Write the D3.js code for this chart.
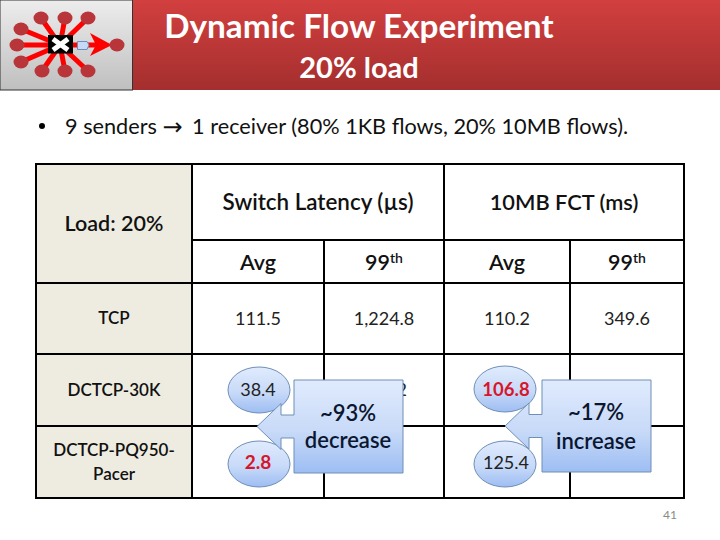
<!DOCTYPE html>
<html><head><meta charset="utf-8">
<script src="https://cdn.jsdelivr.net/npm/d3@7/dist/d3.min.js"></script>
<style>html,body{margin:0;padding:0;background:#fff}svg{display:block}text{font-family:Lato,"Open Sans",sans-serif}</style>
</head><body><svg id="c" width="720" height="540"></svg>
<script>
const title = "Dynamic Flow Experiment";
const subtitle = "20% load";
const bulletStart = "9 senders ";
const bulletArrow = "→";
const bulletEnd = " 1 receiver (80% 1KB flows, 20% 10MB flows).";
const corner = "Load: 20%";
const groups = ["Switch Latency (µs)", "10MB FCT (ms)"];
const subHeaders = ["Avg", "99", "Avg", "99"];
const rowsLabels = [["TCP"], ["DCTCP-30K"], ["DCTCP-PQ950-", "Pacer"]];
const latencyAvg = [111.5, 38.4, 2.8];
const latency99 = ["1,224.8", "298.2", ""];
const fctAvg = [110.2, 106.8, 125.4];
const fct99 = ["349.6", "", ""];
const callouts = [["~93%", "decrease"], ["~17%", "increase"]];
const pageNumber = "41";
const colEdges = [36, 192, 324, 444, 570, 684];
const rowEdges = [164, 240, 283, 354, 426, 498];

const svg = d3.select("#c");
const defs = svg.append("defs");
function grad(id, stops){
  const g = defs.append("linearGradient").attr("id", id).attr("x1",0).attr("y1",0).attr("x2",0).attr("y2",1);
  stops.forEach(([o,c])=>g.append("stop").attr("offset",o).attr("stop-color",c));
}
grad("band",[[0,"#d23f3f"],[1,"#a42f2e"]]);
grad("gray",[[0,"#ededed"],[1,"#bfbfbf"]]);
grad("blue",[[0,"#e0ebfd"],[0.55,"#c8daf8"],[1,"#9dbdf3"]]);

// header band
svg.append("rect").attr("x",133).attr("y",0).attr("width",587).attr("height",90).attr("fill","url(#band)");
svg.append("rect").attr("x",0).attr("y",0).attr("width",132.5).attr("height",90).attr("fill","url(#gray)").attr("stroke","#333").attr("stroke-width",1);
svg.append("text").attr("x",359).attr("y",38).attr("text-anchor","middle").attr("font-size",33.3).attr("font-weight",700).attr("fill","#fff").text(title);
svg.append("text").attr("x",359).attr("y",78).attr("text-anchor","middle").attr("font-size",29).attr("font-weight",700).attr("fill","#fff").text(subtitle);

// star icon
const cx=60, cy=45;
const senders=[[41,18],[65,18],[88,18],[21,29],[17,45],[21,62],[42,71],[65,71],[88,71]];
const icon=svg.append("g");
icon.selectAll("line.s").data(senders).join("line").attr("x1",d=>d[0]).attr("y1",d=>d[1]).attr("x2",cx).attr("y2",cy).attr("stroke","#f00").attr("stroke-width",5);
icon.append("line").attr("x1",cx).attr("y1",cy).attr("x2",100).attr("y2",45).attr("stroke","#f00").attr("stroke-width",5);
icon.append("path").attr("d","M90 33L112 45L90 56L96 45Z").attr("fill","#f00");
icon.selectAll("ellipse").data(senders.concat([[117,45]])).join("ellipse").attr("cx",d=>d[0]).attr("cy",d=>d[1]).attr("rx",7.5).attr("ry",6.5).attr("fill","#b8363a");
icon.append("rect").attr("x",48).attr("y",35).attr("width",25).attr("height",18.5).attr("fill","#000");
icon.append("path").attr("d","M53 39L68 50M68 39L53 50").attr("stroke","#fff").attr("stroke-width",5);
icon.append("path").attr("d","M77.5 41.5H87L89 45L87 49.5H77.5Z").attr("fill","#c6d9f5").attr("stroke","#6c8ebf");

// bullet
svg.append("circle").attr("cx",42).attr("cy",126).attr("r",3).attr("fill","#000");
const bt=svg.append("text").attr("x",65).attr("y",134).attr("font-size",21.7).attr("fill","#111");
bt.append("tspan").text(bulletStart);
bt.append("tspan").style("font-family","'DejaVu Sans'").attr("font-size",24).attr("dy",1).text(bulletArrow);
bt.append("tspan").attr("dy",-1).attr("dx",4).text(bulletEnd);

// table
const g=svg.append("g");
g.append("rect").attr("x",colEdges[0]).attr("y",rowEdges[0]).attr("width",colEdges[1]-colEdges[0]).attr("height",rowEdges[5]-rowEdges[0]).attr("fill","#eeece1");
const H=[[1,5,1],[0,5,2],[0,5,3],[0,5,4],[0,5,0],[0,5,5]];
g.selectAll("line.h").data(H).join("line").attr("x1",d=>colEdges[d[0]]).attr("x2",d=>colEdges[d[1]]).attr("y1",d=>rowEdges[d[2]]).attr("y2",d=>rowEdges[d[2]]).attr("stroke","#000").attr("stroke-width",2);
const V=[[0,0],[1,0],[2,1],[3,0],[4,1],[5,0]];
g.selectAll("line.v").data(V).join("line").attr("x1",d=>colEdges[d[0]]).attr("x2",d=>colEdges[d[0]]).attr("y1",d=>rowEdges[d[1]]).attr("y2",rowEdges[5]).attr("stroke","#000").attr("stroke-width",2);
g.selectAll("rect.o").data([0]).join("rect").attr("x",colEdges[0]).attr("y",rowEdges[0]).attr("width",colEdges[5]-colEdges[0]).attr("height",rowEdges[5]-rowEdges[0]).attr("fill","none").attr("stroke","#000").attr("stroke-width",2);

function T(x,y,s,o={}){
  return svg.append("text").attr("x",x).attr("y",y).attr("text-anchor","middle").attr("font-size",o.size||18).attr("font-weight",o.w||400).attr("fill",o.c||"#222").text(s);
}
const colC=i=>(colEdges[i]+colEdges[i+1])/2;
T(114,231,corner,{size:21.5,w:600,c:"#111"});
T(318,210,groups[0],{size:22.4,w:600,c:"#111"});
T(564,210,groups[1],{size:21.8,w:600,c:"#111"});
subHeaders.forEach((s,i)=>{
  const t=T(colC(i+1),270,s,{size:21.5,w:600,c:"#111"});
  if(s==="99") t.append("tspan").attr("dy",-7).attr("font-size",14).text("th");
});
T(114,324,rowsLabels[0][0],{size:17,w:600,c:"#111"});
T(114,396,rowsLabels[1][0],{size:17,w:600,c:"#111"});
T(114,456,rowsLabels[2][0],{size:17,w:600,c:"#111"});
T(114,480,rowsLabels[2][1],{size:17,w:600,c:"#111"});
const rowY=[325,396,468];
[latency99].forEach(col=>col.forEach((v,r)=>{ if(v!=="") T(colC(2),rowY[r],v); }));
T(colC(1),rowY[0],latencyAvg[0]);
T(colC(3),rowY[0],fctAvg[0]);
T(colC(4),rowY[0],fct99[0]);

// callouts
function ell(x,y){svg.append("ellipse").attr("cx",x).attr("cy",y).attr("rx",31).attr("ry",23).attr("fill","url(#blue)").attr("stroke","#6f8fb5");}
ell(259,390); ell(259,464); ell(505,389); ell(505,464);
function callout(x,y,w,h,tip,midY){
  const a=x-13;
  const p=d3.path();
  p.moveTo(x,y);p.lineTo(x+w,y);p.lineTo(x+w,y+h);p.lineTo(x,y+h);
  p.lineTo(x,midY+11.5);p.lineTo(a,midY+11.5);p.lineTo(a,midY+23);p.lineTo(tip,midY);p.lineTo(a,midY-23);p.lineTo(a,midY-11.5);p.lineTo(x,midY-11.5);p.closePath();
  svg.append("path").attr("d",p.toString()).attr("fill","url(#blue)").attr("stroke","#6f8fb5");
}
callout(294,380,109,93,257,426.5);
callout(542,380,109,92,505,426);
T(258,396,latencyAvg[1],{size:18});
T(258,469,latencyAvg[2],{size:19,w:700,c:"#d7162c"});
T(506,396,fctAvg[1],{size:18.5,w:700,c:"#d7162c"});
T(506,469,fctAvg[2],{size:18});
T(348,421,callouts[0][0],{size:22,w:600,c:"#0b1730"});
T(348,448,callouts[0][1],{size:22,w:600,c:"#0b1730"});
T(596,420,callouts[1][0],{size:22,w:600,c:"#0b1730"});
T(596,449,callouts[1][1],{size:22,w:600,c:"#0b1730"});
T(670,519,pageNumber,{size:12,c:"#8a8a8a"});
</script></body></html>
